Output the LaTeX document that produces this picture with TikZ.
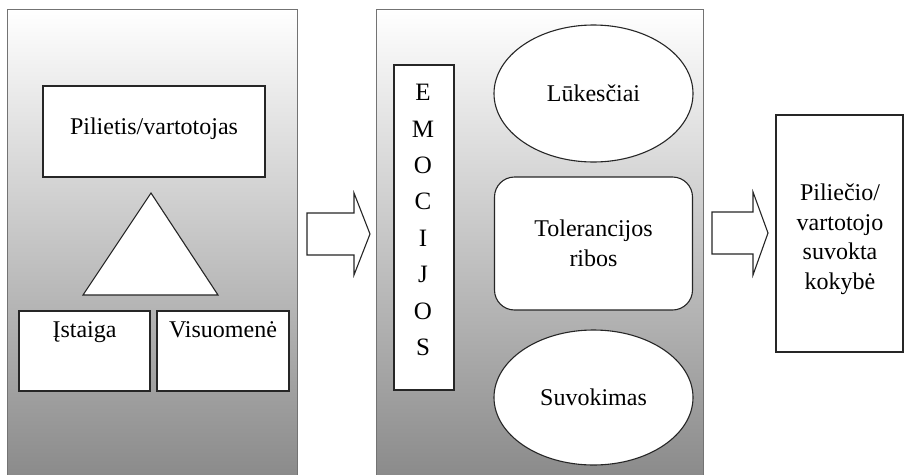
\documentclass[tikz,border=0pt]{standalone}
\usepackage{fontspec}
\setmainfont{Liberation Serif}
\usetikzlibrary{positioning,shapes.geometric}

\begin{document}
\begin{tikzpicture}[x=1pt, y=-1pt]
\useasboundingbox (0,0) rectangle (905,474);
\clip (0,0) rectangle (905,474);

\coordinate (P1_1) at (7, 9);
\coordinate (P1_2) at (297, 490);
\coordinate (P2_1) at (376, 9);
\coordinate (P2_2) at (703, 490);
\coordinate (T_1) at (151, 193);
\coordinate (T_2) at (83, 295);
\coordinate (T_3) at (218, 295);


\tikzset{PanelStyle/.style = {draw = gray!90!black, line width = 1pt,
 top color = white, bottom color = black!47} }

\shade[PanelStyle] (P1_1) rectangle (P1_2);
\shade[PanelStyle] (P2_1) rectangle (P2_2);


\tikzset{BoxStyle/.style = {
 draw = black!85,
 fill = white,
 line width = 1.1pt,
 inner sep = 0pt,
 text = black,
 font = \fontsize{24}{30}\selectfont,
 align = center} }
\tikzset{TextStyle/.style = {text = black, align = center, font = \fontsize{24}{29.5}\selectfont} }

\node[BoxStyle, minimum width=222, minimum height=91] (Pilietis) at (154, 131.5) {};
\node[TextStyle] (PilietisTxt) at (154, 128.5) {Pilietis/vartotojas};
\draw[BoxStyle] (T_1) -- (T_2) -- (T_3) -- cycle;
\node[BoxStyle, minimum width=131, minimum height=80] (Istaiga) at (84.5, 351) {};
\node[BoxStyle, minimum width=132, minimum height=80] (Visuomene) at (223, 351) {};
\node[TextStyle, below=8pt of Istaiga.north] (IstaigaTxt) {Įstaiga};
\node[TextStyle, below=8pt of Visuomene.north] (VisuomeneTxt) {Visuomenė};

\node[BoxStyle, minimum width=60, minimum height=325] (Emocijos) at (424, 227.5) {};
\node[TextStyle, font=\fontsize{25}{36.4}\selectfont] (EmocijosTxt) at (423, 220)
 {E\\M\\O\\C\\I\\J\\O\\S};
\node[BoxStyle, ellipse, minimum width=199, minimum height=137] (Lukesciai) at (593.5, 93.5) {Lūkesčiai};
\node[BoxStyle, rounded corners=20pt, minimum width=198, minimum height=133] (Tolerancija) at (593.5, 243.5) {Tolerancijos\\ribos};
\node[BoxStyle, ellipse, minimum width=199, minimum height=135] (Suvokimas) at (593.5, 397.5) {Suvokimas};

\node[BoxStyle, minimum width=127, minimum height=237] (Kokybe) at (839.5, 233.5) {};
\node[TextStyle] (KokybeTxt) at (840, 239) {Piliečio/\\vartotojo\\suvokta\\kokybė};


\tikzset{ArrowStyle/.style = {draw = black!85, fill = white, line width = 1.1pt} }

\draw[ArrowStyle] (307,213) -- (354,213) -- (354,193) -- (370,234) -- (354,275) -- (354,255) -- (307,255) -- cycle;
\draw[ArrowStyle] (712,212) -- (753,212) -- (753,192) -- (768,233) -- (753,275) -- (753,254) -- (712,254) -- cycle;

\end{tikzpicture}
\end{document}
